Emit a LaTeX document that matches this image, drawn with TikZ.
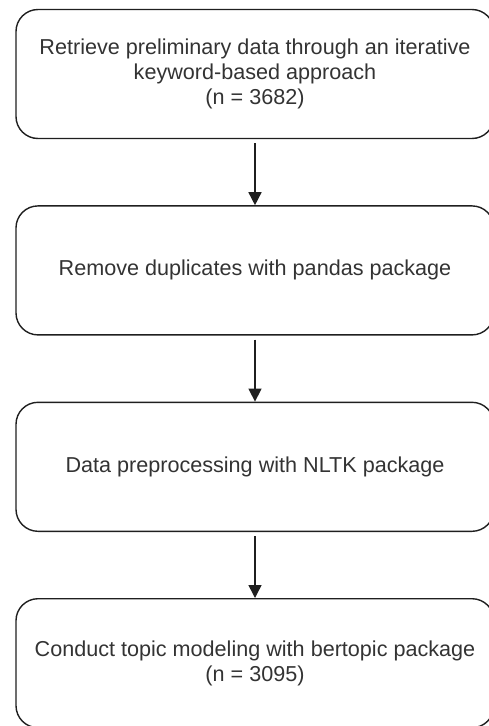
\documentclass[tikz,border=0pt]{standalone}
\usepackage{fontspec}
\setmainfont{Liberation Sans}
\usetikzlibrary{positioning, arrows.meta}

\begin{document}
\begin{tikzpicture}[x=1pt, y=-1pt,
	stage/.style={draw=black!88, line width=1.4pt, rounded corners=22pt,
		minimum width=478pt, minimum height=129pt, inner sep=0pt, align=center,
		text=black!80, font=\fontsize{21.6}{24.8}\selectfont},
	flow/.style={-{Triangle[length=13pt,width=13pt]}, line width=1.5pt,
		draw=black!88, shorten <=4pt}]
	\useasboundingbox (0,0) rectangle (488,726);
	\node[stage] (retrieve) at (255,74)
		{Retrieve preliminary data through an iterative\\keyword-based approach\\(n = 3682)};
	\node[stage, below=66pt of retrieve] (dedup) {Remove duplicates with pandas package};
	\node[stage, below=66pt of dedup] (preproc) {Data preprocessing with NLTK package};
	\node[stage, below=66pt of preproc] (topics)
		{Conduct topic modeling with bertopic package\\(n = 3095)};
	\draw[flow] (retrieve) -- (dedup);
	\draw[flow] (dedup) -- (preproc);
	\draw[flow] (preproc) -- (topics);
\end{tikzpicture}
\end{document}
